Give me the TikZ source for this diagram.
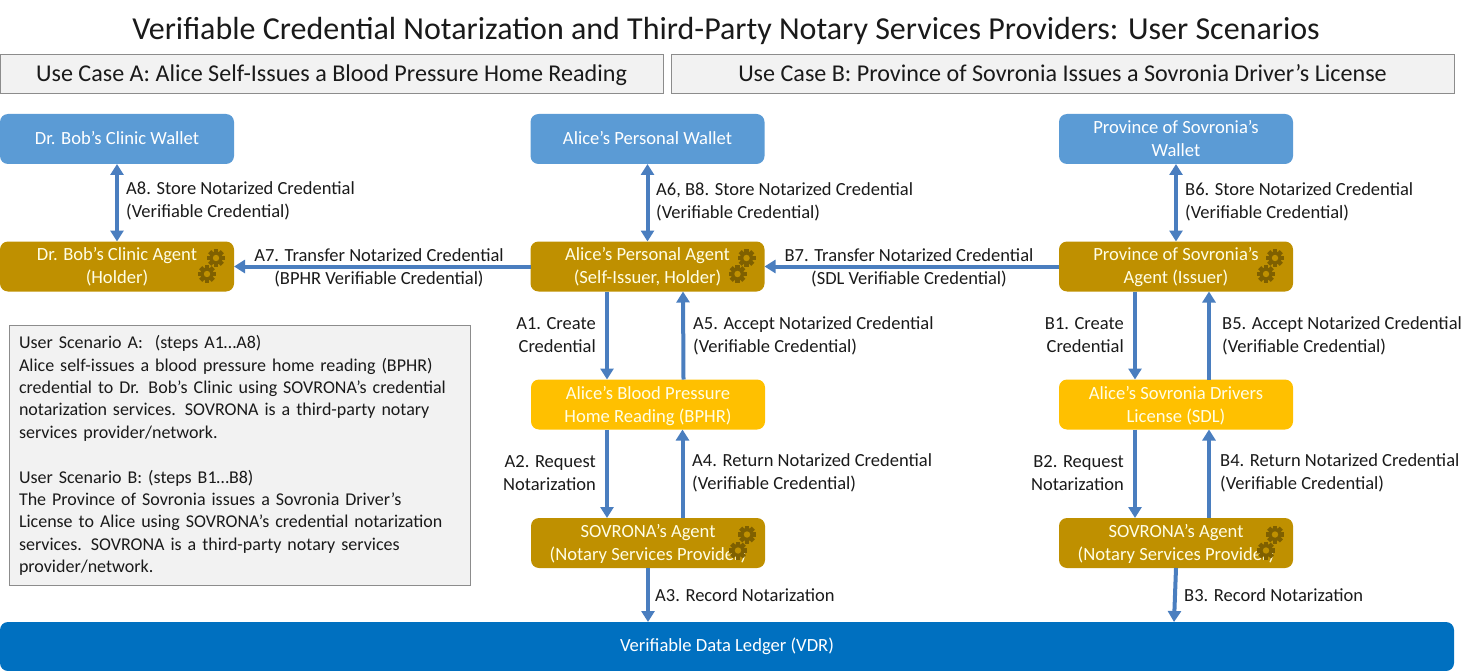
\documentclass[tikz,border=0pt]{standalone}
\usepackage{fontspec}
\setmainfont{Carlito}
\usepackage{xcolor}
\usetikzlibrary{arrows.meta}
\definecolor{walletblue}{HTML}{5B9BD5}
\definecolor{agentgold}{HTML}{BF9000}
\definecolor{credyellow}{HTML}{FFC000}
\definecolor{ledgerblue}{HTML}{0070C0}
\definecolor{arrowblue}{HTML}{4A7EBF}
\definecolor{gearbrown}{HTML}{7F6000}
\definecolor{panelgrey}{HTML}{F2F2F2}
\definecolor{panelline}{HTML}{8C8C8C}
\definecolor{inktext}{HTML}{1A1A1A}
\tikzset{
  arrow/.style={line width=4pt,draw=arrowblue,-{Triangle[length=11pt,width=13pt]}},
  twoway/.style={arrow,{Triangle[length=11pt,width=13pt]}-{Triangle[length=11pt,width=13pt]}},
  basefont/.style={font=\fontsize{18.6}{23}\selectfont},
  labelfont/.style={font=\fontsize{18.5}{23}\selectfont},
  box/.style={basefont,rounded corners=8pt,inner sep=0pt,outer sep=0pt,minimum width=234pt,minimum height=50pt,align=center},
  wallet/.style={box,fill=walletblue,text=white},
  agent/.style={box,fill=agentgold,text=white!90!yellow,text depth=2pt},
  cred/.style={box,fill=credyellow,text=white!90!yellow,text depth=0pt},
  steplabel/.style={labelfont,text=inktext,inner sep=0pt,align=left,anchor=west},
  stepleft/.style={labelfont,text=inktext,inner sep=0pt,align=right,anchor=east},
  stepmid/.style={labelfont,text=inktext,inner sep=0pt,align=center},
  header/.style={font=\fontsize{24.1}{28}\selectfont,text=inktext,fill=panelgrey,draw=panelline,line width=0.8pt,inner sep=0pt,minimum height=39pt,text height=19pt,text depth=3pt},
  gear/.pic={
    \fill[gearbrown] (0,0) circle (6.6pt);
    \foreach \a in {0,45,...,315}
      \fill[gearbrown,rotate=\a] (-2.2pt,5pt) rectangle (2.2pt,9pt);
    \fill[agentgold] (0,0) circle (3.2pt);
  },
}
\newcommand{\gearpair}[1]{
  \pic at ([shift={(-18,-8.5)}]#1.east) {gear};
  \pic at ([shift={(-27,7.5)}]#1.east) {gear};
}
\begin{document}
\begin{tikzpicture}[x=1pt,y=-1pt]
  \useasboundingbox (0,0) rectangle (1479,671);
  \node (title) at (726,30.5) [font=\fontsize{32}{36}\selectfont,text=inktext,inner sep=0pt] {Verifiable Credential Notarization and Third-Party Notary Services Providers: User Scenarios};
  \node (headA) at (331.5,73.5) [header,minimum width=663pt] {Use Case A: Alice Self-Issues a Blood Pressure Home Reading};
  \node (headB) at (1062.5,73.5) [header,minimum width=783pt] {Use Case B: Province of Sovronia Issues a Sovronia Driver’s License};
  % wallets
  \node (walletA) at (117,139) [wallet,text depth=3pt] {Dr. Bob’s Clinic Wallet};
  \node (walletB) at (647.5,139) [wallet,text depth=3pt] {Alice’s Personal Wallet};
  \node (walletC) at (1176,139) [wallet] {Province of Sovronia’s\\Wallet};
  % agents
  \node (agentA) at (117,266.5) [agent] {Dr. Bob’s Clinic Agent\\(Holder)};
  \node (agentB) at (647.5,266.5) [agent] {Alice’s Personal Agent\\(Self-Issuer, Holder)};
  \node (agentC) at (1176,266.5) [agent] {Province of Sovronia’s\\Agent (Issuer)};
  % credentials
  \node (credA) at (648,404.5) [cred] {Alice’s Blood Pressure\\Home Reading (BPHR)};
  \node (credB) at (1176,404.5) [cred] {Alice’s Sovronia Drivers\\License (SDL)};
  % notary agents
  \node (notaryA) at (648,543) [agent] {SOVRONA’s Agent\\(Notary Services Provider)};
  \node (notaryB) at (1176,543) [agent] {SOVRONA’s Agent\\(Notary Services Provider)};
  \node (ledger) at (727,646.5) [box,fill=ledgerblue,text=white,minimum width=1454pt,minimum height=49pt] {Verifiable Data Ledger (VDR)};
  \gearpair{agentA}
  \gearpair{agentB}
  \gearpair{agentC}
  \gearpair{notaryA}
  \gearpair{notaryB}
  % scenario panel
  \node (panel) at (239.5,455.5) [font=\fontsize{18}{22.4}\selectfont,text=inktext,fill=panelgrey,draw=panelline,line width=0.8pt,minimum height=259pt,text width=441pt,inner sep=10pt,align=left] {User Scenario A:~~(steps A1…A8)\\
    Alice self-issues a blood pressure home reading (BPHR)\\
    credential to Dr. Bob’s Clinic using SOVRONA’s credential\\
    notarization services. SOVRONA is a third-party notary\\
    services provider/network.\\
    ~\\
    User Scenario B: (steps B1…B8)\\
    The Province of Sovronia issues a Sovronia Driver’s\\
    License to Alice using SOVRONA’s credential notarization\\
    services. SOVRONA is a third-party notary services\\
    provider/network.};
  % connectors
  \draw [twoway] (walletA) -- (agentA);
  \draw [twoway] (walletB) -- (agentB);
  \draw [twoway] (walletC) -- (agentC);
  \draw [arrow] (agentB) -- (agentA);
  \draw [arrow] (agentC) -- (agentB);
  \draw [arrow] ([xshift=-40.5]agentB.south) -- ([xshift=-41]credA.north);
  \draw [arrow] ([xshift=35.5]credA.north) -- ([xshift=35.5]agentB.south);
  \draw [arrow] ([xshift=-41]credA.south) -- ([xshift=-41]notaryA.north);
  \draw [arrow] ([xshift=34.5]notaryA.north) -- ([xshift=34.5]credA.south);
  \draw [arrow] (notaryA) -- (notaryA |- ledger.north);
  \draw [arrow] ([xshift=-41]agentC.south) -- ([xshift=-41]credB.north);
  \draw [arrow] ([xshift=33]credB.north) -- ([xshift=33]agentC.south);
  \draw [arrow] ([xshift=-41]credB.south) -- ([xshift=-41]notaryB.north);
  \draw [arrow] ([xshift=33]notaryB.north) -- ([xshift=33]credB.south);
  \draw [arrow] (notaryB.south) -- ([xshift=-2]notaryB.south |- ledger.north);
  % step labels
  \node (labA8) at (126,201) [steplabel] {A8. Store Notarized Credential\\(Verifiable Credential)};
  \node (labA6) at (656,201.5) [steplabel] {A6, B8. Store Notarized Credential\\(Verifiable Credential)};
  \node (labB6) at (1185,201.5) [steplabel] {B6. Store Notarized Credential\\(Verifiable Credential)};
  \node (labA7) at (379,268) [stepmid] {A7. Transfer Notarized Credential\\(BPHR Verifiable Credential)};
  \node (labB7) at (909,268) [stepmid] {B7. Transfer Notarized Credential\\(SDL Verifiable Credential)};
  \node (labA1) at (596,335.5) [stepleft] {A1. Create\\Credential};
  \node (labA5) at (693,335.5) [steplabel] {A5. Accept Notarized Credential\\(Verifiable Credential)};
  \node (labB1) at (1124,335.5) [stepleft] {B1. Create\\Credential};
  \node (labB5) at (1222,335.5) [steplabel] {B5. Accept Notarized Credential\\(Verifiable Credential)};
  \node (labA2) at (596,473.5) [stepleft] {A2. Request\\Notarization};
  \node (labA4) at (692,473) [steplabel] {A4. Return Notarized Credential\\(Verifiable Credential)};
  \node (labB2) at (1124,473.5) [stepleft] {B2. Request\\Notarization};
  \node (labB4) at (1220,473) [steplabel] {B4. Return Notarized Credential\\(Verifiable Credential)};
  \node (labA3) at (655,595) [steplabel] {A3. Record Notarization};
  \node (labB3) at (1184,595) [steplabel] {B3. Record Notarization};
\end{tikzpicture}
\end{document}
